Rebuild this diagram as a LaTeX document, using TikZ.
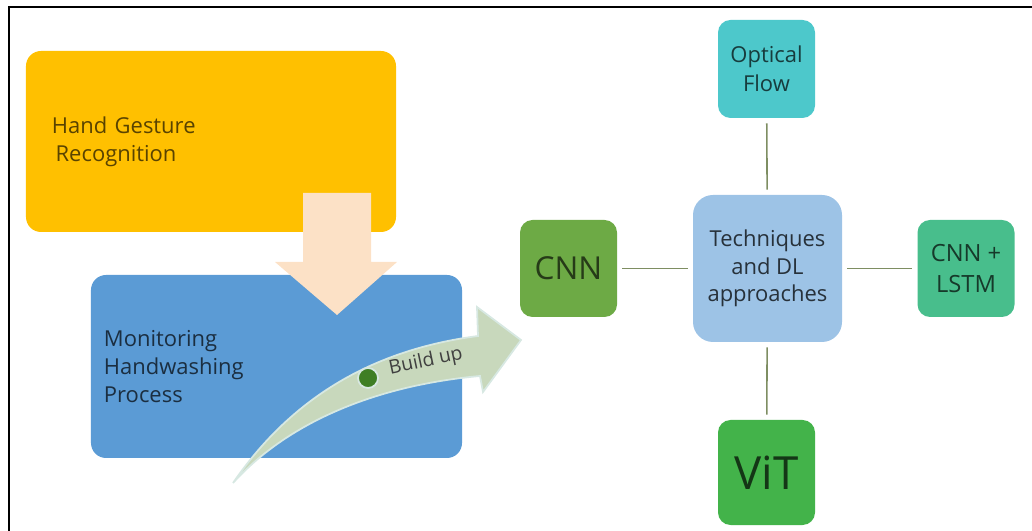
\documentclass[tikz,border=0pt]{standalone}
\usepackage{fontspec}
\setmainfont{Open Sans}
\usepackage{tikz}
\usetikzlibrary{positioning}
\definecolor{gestureYellow}{HTML}{FFC000}
\definecolor{monitorBlue}{HTML}{5B9BD5}
\definecolor{mergePeach}{HTML}{FCE1C6}
\definecolor{buildSage}{HTML}{C8D8BC}
\definecolor{buildRim}{HTML}{D7E8E2}
\definecolor{dotGreen}{HTML}{3E7E24}
\definecolor{techBlue}{HTML}{9DC3E6}
\definecolor{flowTeal}{HTML}{4DC8CB}
\definecolor{cnnGreen}{HTML}{6DAA45}
\definecolor{lstmGreen}{HTML}{48BE8C}
\definecolor{vitGreen}{HTML}{43B34A}
\definecolor{linkOlive}{HTML}{7E8E62}
\tikzset{stage/.style={rectangle, rounded corners=3mm, align=left, inner sep=0pt, font=\fontsize{12.5}{16}\selectfont},
  approach/.style={rectangle, rounded corners=2.5mm, align=center, inner sep=0pt, minimum width=1.94cm, minimum height=1.94cm},
  link/.style={draw=linkOlive, line width=0.9pt, shorten >=1mm, shorten <=1mm}}

\begin{document}
\begin{tikzpicture}[x=0.2mm, y=-0.2mm]
	\useasboundingbox (0,0) rectangle (1032,531);
	\draw[line width=1.1pt] (9,531) -- (9,7) -- (1032,7);
	\node[stage, fill=gestureYellow, text=gestureYellow!35!black, minimum width=7.4cm, minimum height=3.62cm, text width=6.36cm] at (211,141.5) (Gesture) {Hand Gesture\\\,Recognition};
	\node[stage, fill=monitorBlue, text=monitorBlue!30!black, minimum width=7.42cm, minimum height=3.66cm, text width=6.9cm] at (276.5,366.5) (Monitoring) {Monitoring\\Handwashing\\Process};
	% block arrows
	\fill[mergePeach] (303,193) -- (371,193) -- (371,262) -- (397,262) -- (337,315) -- (275,262) -- (303,262) -- cycle;
	\draw[buildRim, fill=buildSage, line width=1pt] (233,483) .. controls (290,400) and (370,350) .. (478,336) -- (477,307) -- (521,340) -- (483,392) -- (480,376) .. controls (380,385) and (290,420) .. cycle;
	\node[circle, fill=dotGreen, draw=buildRim, line width=1pt, minimum size=0.4cm, inner sep=0pt] at (368,378) (Dot) {};
	\node[rotate=12, right=1.2mm of Dot, yshift=1.5mm, font=\fontsize{11}{13}\selectfont, text=black!75] (Build) {Build up};
	% techniques
	\node[approach, fill=techBlue, rounded corners=4mm, minimum width=2.98cm, minimum height=2.94cm, text=techBlue!25!black, font=\fontsize{12.5}{15.5}\selectfont] at (767.5,268.5) (Techniques) {Techniques\\and DL\\approaches};
	\node[approach, fill=flowTeal, minimum height=1.96cm, text=flowTeal!30!black, font=\fontsize{12.5}{16.5}\selectfont] at (766.5,69) (Optical Flow) {Optical\\Flow};
	\node[approach, fill=cnnGreen, text=cnnGreen!35!black, font=\fontsize{18}{20}\selectfont] at (568.5,268.5) (CNN) {CNN};
	\node[approach, fill=lstmGreen, text=lstmGreen!30!black, font=\fontsize{13.5}{18}\selectfont] at (966,268.5) (CNN LSTM) {CNN +\\LSTM};
	\node[approach, fill=vitGreen, minimum height=2.1cm, text=vitGreen!30!black, font=\fontsize{26}{28}\selectfont] at (766.5,472.5) (ViT) {ViT};
	\draw[link]
		(Techniques) edge (Optical Flow)
		(Techniques) edge (CNN)
		(Techniques) edge (CNN LSTM)
		(Techniques) edge (ViT);
\end{tikzpicture}
\end{document}
